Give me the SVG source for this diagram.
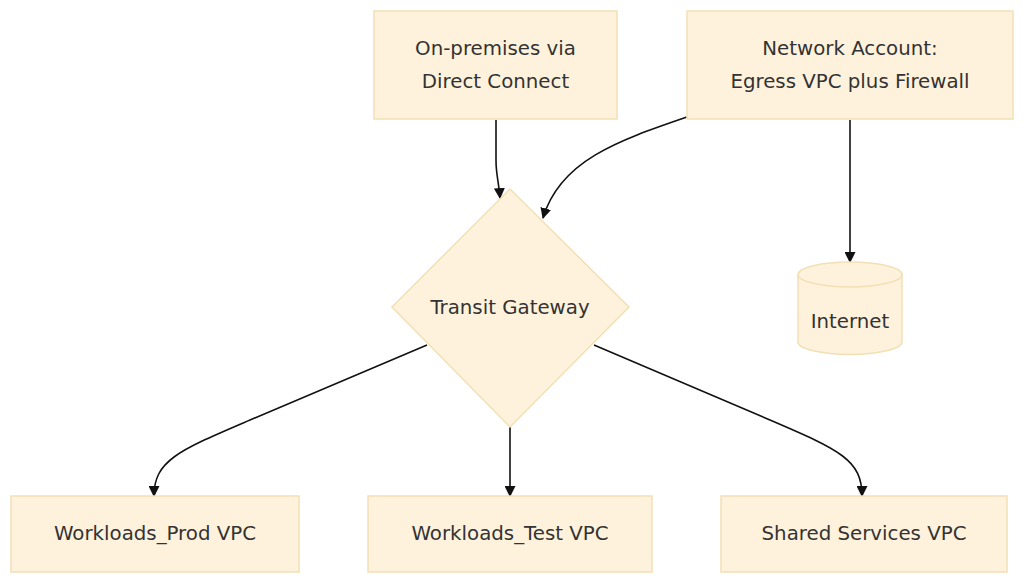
<svg xmlns="http://www.w3.org/2000/svg" width="1024" height="583" viewBox="0 0 1024 583">
<style>
.node{fill:#fff2dc;stroke:#f2e0b5;stroke-width:1.5}
.lbl{font-family:"DejaVu Sans",sans-serif;font-size:19.8px;fill:#333;text-anchor:middle}
.edge{fill:none;stroke:#111;stroke-width:1.6}
</style>
<defs>
<marker id="arr" viewBox="0 0 10 10" refX="9" refY="5" markerWidth="11" markerHeight="11" markerUnits="userSpaceOnUse" orient="auto">
<path d="M0,0 L10,5 L0,10 z" fill="#111"/>
</marker>
</defs>
<rect width="1024" height="583" fill="#fff"/>
<g id="edges">
<path class="edge" marker-end="url(#arr)" d="M496,120 L496,160 C496,176 499,182 500,198"/>
<path class="edge" marker-end="url(#arr)" d="M687,117 C620,140 560,160 543,218"/>
<path class="edge" marker-end="url(#arr)" d="M850,120 L850,262"/>
<path class="edge" marker-end="url(#arr)" d="M427,345 L250,420 C180,450 154,460 154,496"/>
<path class="edge" marker-end="url(#arr)" d="M510,427 L510,496"/>
<path class="edge" marker-end="url(#arr)" d="M594,345 L770,420 C840,450 862,460 862,496"/>
</g>
<g id="onprem">
<rect class="node" x="374" y="11" width="243" height="108"/>
<text class="lbl" x="495.5" y="55">On-premises via</text>
<text class="lbl" x="495.5" y="88">Direct Connect</text>
</g>
<g id="network">
<rect class="node" x="687" y="11" width="326" height="108"/>
<text class="lbl" x="850" y="55">Network Account:</text>
<text class="lbl" x="850" y="88">Egress VPC plus Firewall</text>
</g>
<g id="tgw">
<polygon class="node" points="510,189 629,307 510,427 392,307"/>
<text class="lbl" x="510" y="314">Transit Gateway</text>
</g>
<g id="internet">
<path class="node" d="M798,274.5 A52,12.5 0 0 1 902,274.5 L902,342 A52,12.5 0 0 1 798,342 Z"/>
<path fill="none" stroke="#f2e0b5" stroke-width="1.5" d="M798,274.5 A52,12.5 0 0 0 902,274.5"/>
<text class="lbl" x="850" y="328">Internet</text>
</g>
<g id="prod">
<rect class="node" x="11" y="496" width="288" height="76"/>
<text class="lbl" x="155" y="540">Workloads_Prod VPC</text>
</g>
<g id="test">
<rect class="node" x="368" y="496" width="284" height="76"/>
<text class="lbl" x="510" y="540">Workloads_Test VPC</text>
</g>
<g id="shared">
<rect class="node" x="721" y="496" width="286" height="76"/>
<text class="lbl" x="864" y="540">Shared Services VPC</text>
</g>
</svg>
